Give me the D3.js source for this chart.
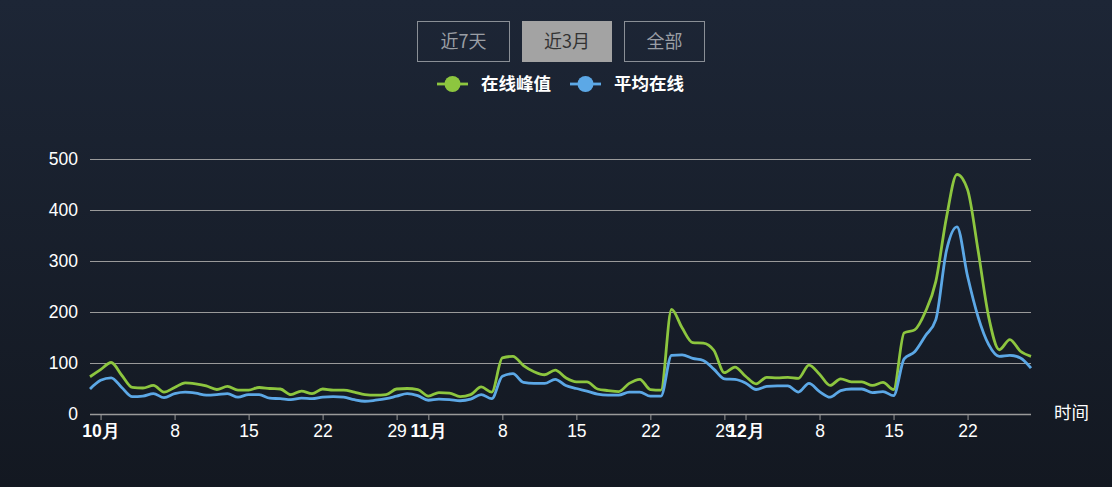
<!DOCTYPE html>
<html><head><meta charset="utf-8">
<script src="https://cdn.jsdelivr.net/npm/d3@7"></script>
<style>
html,body{margin:0;padding:0;background:#161d29;}
svg{display:block;font-family:"Noto Sans CJK SC","Noto Sans",sans-serif;}
</style></head><body>
<svg id="chart" width="1112" height="487"></svg>
<script>
// ---- data ----
const startDate = "2018-09-30";
const peakValues = [73,87,101,76,52,51,56,43,52,61,59,55,48,54,47,47,52,50,49,38,45,40,49,47,47,43,38,37,38,49,
  50,48,35,42,41,34,38,53,43,110,113,95,83,77,86,71,63,63,49,46,44,60,68,48,47,205,169,140,139,125,
  81,92,74,59,72,71,72,70,96,78,56,69,63,63,56,62,48,159,165,200,260,385,470,440,320,190,126,146,123,113];
const avgValues = [49,66,71,52,34,35,40,32,40,43,41,37,38,40,33,38,38,31,30,28,31,30,33,34,33,28,25,27,30,35,
  40,36,27,29,28,26,29,38,30,74,79,62,60,60,68,56,50,45,39,37,37,43,43,35,35,115,116,109,105,88,
  69,68,61,48,54,55,55,43,60,44,33,46,49,49,42,44,36,108,122,153,185,320,367,270,190,136,113,115,110,90];
const seriesNames = ["在线峰值","平均在线"];
const seriesColors = ["#8dc63f","#5ca8e6"];
const yTicks = [0,100,200,300,400,500];
const xTickDates = ["2018-10-01","2018-10-08","2018-10-15","2018-10-22","2018-10-29","2018-11-01","2018-11-08","2018-11-15","2018-11-22","2018-11-29","2018-12-01","2018-12-08","2018-12-15","2018-12-22"];
const monthLabels = {"2018-10-01":"10月","2018-11-01":"11月","2018-12-01":"12月"};
const buttons = ["近7天","近3月","全部"];
const selectedButton = 1;
const xTitle = "时间";

// ---- build ----
const parse = d3.utcParse("%Y-%m-%d");
const fmt = d3.utcFormat("%Y-%m-%d");
const t0 = parse(startDate);
const dates = peakValues.map((_, i) => d3.utcDay.offset(t0, i));

const svg = d3.select("#chart");
const W = 1112, H = 487;
const defs = svg.append("defs");
const bg = defs.append("linearGradient").attr("id","bg").attr("x1",0).attr("y1",0).attr("x2",0).attr("y2",1);
bg.append("stop").attr("offset","0%").attr("stop-color","#1d2636");
bg.append("stop").attr("offset","100%").attr("stop-color","#131821");
svg.append("rect").attr("width",W).attr("height",H).attr("fill","url(#bg)");

const x = d3.scaleUtc().domain([dates[0], dates[dates.length-1]]).range([90, 1031]);
const y = d3.scaleLinear().domain([0,500]).range([414,159]);

// grid + y labels
const yAxis = d3.axisLeft(y).tickValues(yTicks).tickSize(-(1031-90)).tickPadding(12);
const gy = svg.append("g").attr("transform","translate(90,0)").call(yAxis);
gy.select(".domain").remove();
gy.selectAll(".tick line").attr("stroke","#9a9a9a").attr("stroke-width",1)
  .filter(d => d === 0).remove();
gy.selectAll(".tick text").attr("fill","#ffffff").attr("font-size",17.5).attr("x",-12);

// x axis
const xAxis = d3.axisBottom(x).tickValues(xTickDates.map(parse)).tickSize(6).tickPadding(5)
  .tickFormat(d => monthLabels[fmt(d)] || String(d.getUTCDate()));
const gx = svg.append("g").attr("transform","translate(0,414)").call(xAxis);
gx.select(".domain").attr("stroke","#9a9a9a").attr("stroke-width",1.5).attr("d","M90,0.5H1031");
gx.selectAll(".tick line").attr("stroke","#9a9a9a").attr("stroke-width",1);
gx.selectAll(".tick text").attr("fill","#ffffff").attr("font-size",17.5)
  .attr("font-weight", d => monthLabels[fmt(d)] ? "bold" : "normal");

svg.append("text").attr("x",1054).attr("y",419).attr("fill","#ffffff").attr("font-size",17.5).text(xTitle);

// lines
const line = d3.line().x((d,i) => x(dates[i])).y(d => y(d)).curve(d3.curveMonotoneX);
[peakValues, avgValues].forEach((vals, k) => {
  svg.append("path").datum(vals).attr("d", line).attr("fill","none")
    .attr("stroke", seriesColors[k]).attr("stroke-width",2.8).attr("stroke-linejoin","round");
});

// buttons
const bx = [417, 522, 624], bw = [92, 89, 80];
buttons.forEach((b, i) => {
  const g = svg.append("g");
  g.append("rect").attr("x", bx[i]+0.5).attr("y", 21.5).attr("width", bw[i]).attr("height", 40)
    .attr("fill", i === selectedButton ? "#a3a3a3" : "none")
    .attr("stroke", i === selectedButton ? "#a3a3a3" : "#8a8f96").attr("stroke-width",1);
  g.append("text").attr("x", bx[i] + bw[i]/2 + 0.5).attr("y", 48).attr("text-anchor","middle")
    .attr("font-size",18).attr("fill", i === selectedButton ? "#333333" : "#9a9ea4").text(b);
});

// legend
const lx = [437, 570];
seriesNames.forEach((n, i) => {
  const g = svg.append("g");
  g.append("line").attr("x1", lx[i]).attr("x2", lx[i]+31).attr("y1",84).attr("y2",84)
    .attr("stroke", seriesColors[i]).attr("stroke-width",2.8);
  g.append("circle").attr("cx", lx[i]+15.5).attr("cy",84).attr("r",8).attr("fill", seriesColors[i]);
  g.append("text").attr("x", lx[i]+44).attr("y",90).attr("font-size",17.5).attr("font-weight","bold")
    .attr("fill","#ffffff").text(n);
});
</script>
</body></html>
